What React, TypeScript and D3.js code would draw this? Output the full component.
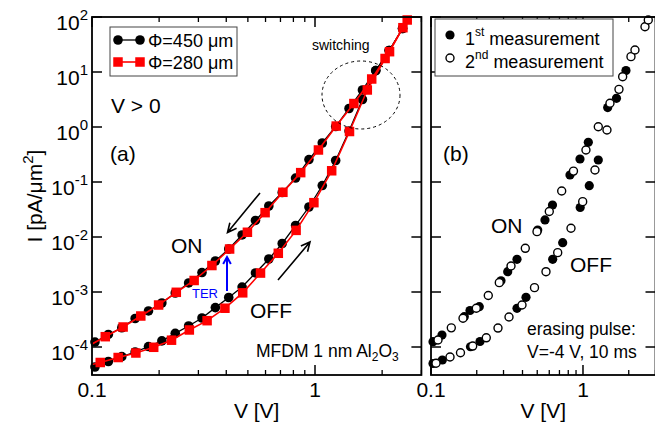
import React from "react";
import * as d3 from "d3";

const FONT = "'Liberation Sans', Arial, Helvetica, sans-serif";

// ---------- Panel (a) data : I [pA/um^2] vs V [V] ----------
const aBlackV = [0.1031, 0.1184, 0.136, 0.1561, 0.1792, 0.2057, 0.2362, 0.2712, 0.3113, 0.3574, 0.4103, 0.471, 0.5408, 0.6208, 0.7127, 0.8182, 0.9394, 1.078, 1.238, 1.421, 1.632, 1.873, 2.151, 2.469];
const aBlackOnI = [1.23e-4, 1.69e-4, 2.24e-4, 3.3e-4, 4.52e-4, 6.31e-4, 9.59e-4, 1.46e-3, 2.26e-3, 3.66e-3, 6.05e-3, 0.0109, 0.02, 0.0366, 0.0644, 0.118, 0.256, 0.512, 1.02, 2.17, 4.71, 10.6, 24.6, 61.8];
const aBlackOffI = [4.33e-5, 5.45e-5, 6.68e-5, 8.11e-5, 1.02e-4, 1.29e-4, 1.77e-4, 2.41e-4, 3.37e-4, 5.2e-4, 7.94e-4, 1.23e-3, 2.22e-3, 3.98e-3, 7.62e-3, 0.0162, 0.0351, 0.0863, 0.246, 0.845, 3.16, 10.6, 24.6, 61.8];

const aRedOnV = [0.0954, 0.1147, 0.1379, 0.1655, 0.1989, 0.2388, 0.2871, 0.3449, 0.4141, 0.4976, 0.5973, 0.7178, 0.8627, 1.036, 1.245, 1.494, 1.796, 2.159, 2.591];
const aRedOnI = [1.02e-4, 1.54e-4, 2.31e-4, 3.66e-4, 5.8e-4, 9.88e-4, 1.62e-3, 3.03e-3, 6.05e-3, 0.0122, 0.0277, 0.065, 0.148, 0.382, 1.04, 2.67, 7.46, 23.4, 88.2];
const aRedOffV = [0.09, 0.1089, 0.131, 0.1573, 0.1891, 0.2273, 0.2732, 0.3282, 0.3945, 0.4741, 0.5697, 0.6846, 0.8228, 0.9887, 1.188, 1.428, 1.716, 2.062, 2.479];
const aRedOffI = [4.33e-5, 5.23e-5, 6.44e-5, 7.78e-5, 9.88e-5, 1.33e-4, 2.04e-4, 3.01e-4, 5.07e-4, 9.66e-4, 2.21e-3, 5.06e-3, 0.0132, 0.0421, 0.16, 0.828, 4.71, 17.6, 63.9];

// ---------- Panel (b) data ----------
const bOn1V = [0.1031, 0.1181, 0.1656, 0.1805, 0.2078, 0.2887, 0.3196, 0.368, 0.5035, 0.5623, 0.63, 0.8211, 0.9557, 1.084, 1.454, 1.661, 1.918];
const bOn1I = [1.25e-4, 1.65e-4, 3.56e-4, 4.61e-4, 5.41e-4, 1.6e-3, 2.34e-3, 3.93e-3, 0.0134, 0.0204, 0.0382, 0.134, 0.262, 0.527, 2.26, 3.32, 10.6];
const bOff1V = [0.1031, 0.1187, 0.1819, 0.2101, 0.368, 0.4217, 0.6319, 0.7352, 0.9585, 1.1, 1.261];
const bOff1I = [5.01e-5, 5.8e-5, 1.01e-4, 1.26e-4, 5.06e-4, 8.01e-4, 3.93e-3, 7.87e-3, 0.0344, 0.0857, 0.251];
const bOn2V = [0.1112, 0.136, 0.1624, 0.1986, 0.2382, 0.2814, 0.336, 0.4173, 0.4982, 0.6002, 0.7243, 0.866, 1.046, 1.261, 1.505, 1.725, 2.069, 2.558];
const bOn2I = [1.34e-4, 2.23e-4, 3.33e-4, 5.06e-4, 8.63e-4, 1.48e-3, 2.97e-3, 6.23e-3, 0.0125, 0.0291, 0.0686, 0.158, 0.382, 1.01, 2.7, 4.84, 19.0, 66.6];
const bOff2V = [0.1079, 0.1334, 0.1563, 0.1881, 0.2311, 0.2759, 0.326, 0.397, 0.4797, 0.5709, 0.6818, 0.8339, 0.9954, 1.199, 1.438, 1.824, 2.198, 2.689];
const bOff2I = [5.06e-5, 6.58e-5, 7.87e-5, 1.04e-4, 1.47e-4, 2.21e-4, 3.51e-4, 5.8e-4, 1.2e-3, 2.34e-3, 5.19e-3, 0.0144, 0.0439, 0.165, 0.881, 8.22, 25.1, 88.2];

// ---------- Axis ticks ----------
const xMajorTicks = [0.1, 1];
const xMajorLabels = ["0.1", "1"];
const xMinorTicks = [0.2, 0.3, 0.4, 0.5, 0.6, 0.7, 0.8, 0.9, 2, 3];
const yExponents = [-4, -3, -2, -1, 0, 1, 2];

const legendA = ["\u03A6=450 \u03BCm", "\u03A6=280 \u03BCm"];
const legendB = [["1", "st", " measurement"], ["2", "nd", " measurement"]];
const yLabelMain = "I [pA/\u03BCm";

const TOP = 17, BOTTOM = 375;
const yScale = d3.scaleLog().domain([Math.pow(10, -4.509), 100]).range([BOTTOM, TOP]);
const xA = d3.scaleLog().domain([0.1, 3]).range([92, 421.4]);
const xB = d3.scaleLog().domain([0.1, 3]).range([431, 655.5]);

function pairs(vs: number[], is: number[]): [number, number][] {
  return vs.map((v, k) => [v, is[k]] as [number, number]);
}

function linePath(x: any, vs: number[], is: number[]) {
  return d3.line<[number, number]>().x((d) => x(d[0])).y((d) => yScale(d[1]))(pairs(vs, is)) || "";
}

function arrow(x1: number, y1: number, x2: number, y2: number, len = 9, half = 0.45) {
  const a = Math.atan2(y2 - y1, x2 - x1);
  const h1x = x2 - len * Math.cos(a - half), h1y = y2 - len * Math.sin(a - half);
  const h2x = x2 - len * Math.cos(a + half), h2y = y2 - len * Math.sin(a + half);
  return `M${x1},${y1}L${x2},${y2}M${h1x},${h1y}L${x2},${y2}L${h2x},${h2y}`;
}

function Frame({ x, showYLabels }: { x: any; showYLabels: boolean }) {
  const [l, r] = x.range();
  return (
    <g>
      {xMinorTicks.map((t) => (
        <g key={"mi" + t}>
          <line x1={x(t)} x2={x(t)} y1={BOTTOM} y2={BOTTOM - 5} stroke="#000" strokeWidth={1.3} />
          <line x1={x(t)} x2={x(t)} y1={TOP} y2={TOP + 5} stroke="#000" strokeWidth={1.3} />
        </g>
      ))}
      {xMajorTicks.map((t, k) => (
        <g key={"ma" + t}>
          <line x1={x(t)} x2={x(t)} y1={BOTTOM} y2={BOTTOM - 10} stroke="#000" strokeWidth={1.5} />
          <line x1={x(t)} x2={x(t)} y1={TOP} y2={TOP + 10} stroke="#000" strokeWidth={1.5} />
          <text x={x(t)} y={397} textAnchor="middle" fontSize={21} fontFamily={FONT}>{xMajorLabels[k]}</text>
        </g>
      ))}
      {yExponents.map((e) => (
        <g key={"y" + e}>
          <line x1={l} x2={l + 10} y1={yScale(Math.pow(10, e))} y2={yScale(Math.pow(10, e))} stroke="#000" strokeWidth={1.5} />
          <line x1={r} x2={r - 10} y1={yScale(Math.pow(10, e))} y2={yScale(Math.pow(10, e))} stroke="#000" strokeWidth={1.5} />
          {showYLabels && (
            <text x={88} y={yScale(Math.pow(10, e)) + 13} textAnchor="end" fontSize={21} fontFamily={FONT}>
              10<tspan dy={-10} fontSize={15}>{String(e)}</tspan>
            </text>
          )}
        </g>
      ))}
      <rect x={l} y={TOP} width={r - l} height={BOTTOM - TOP} fill="none" stroke="#000" strokeWidth={1.8} />
      <text x={(l + r) / 2} y={418} textAnchor="middle" fontSize={21} fontFamily={FONT}>V [V]</text>
    </g>
  );
}

export default function App() {
  const sq = 9.5;
  return (
    <div style={{ position: "absolute", left: 0, top: 0 }}>
      <svg width={655} height={428} viewBox="0 0 655 428" style={{ display: "block", background: "#fff" }}>
        <defs>
          <clipPath id="clipA"><rect x={92} y={TOP} width={329.4} height={BOTTOM - TOP} /></clipPath>
          <clipPath id="clipB"><rect x={431} y={TOP} width={224.5} height={BOTTOM - TOP} /></clipPath>
        </defs>
        <rect x={0} y={0} width={655} height={428} fill="#fff" />

        {/* ---------- Panel (a) ---------- */}
        <g clipPath="url(#clipA)">
          <path d={linePath(xA, aBlackV, aBlackOffI)} fill="none" stroke="#000" strokeWidth={1.3} />
          <path d={linePath(xA, aBlackV, aBlackOnI)} fill="none" stroke="#000" strokeWidth={1.3} />
        </g>
        {pairs(aBlackV, aBlackOffI).concat(pairs(aBlackV, aBlackOnI)).map((d, k) => (
          <circle key={"bk" + k} cx={xA(d[0])} cy={yScale(d[1])} r={4.8} fill="#000" />
        ))}
        <g clipPath="url(#clipA)">
          <path d={linePath(xA, aRedOffV, aRedOffI)} fill="none" stroke="#ff0000" strokeWidth={1.6} />
          <path d={linePath(xA, aRedOnV, aRedOnI)} fill="none" stroke="#ff0000" strokeWidth={1.6} />
        </g>
        {pairs(aRedOffV, aRedOffI).concat(pairs(aRedOnV, aRedOnI)).filter((d) => d[0] >= 0.1).map((d, k) => (
          <rect key={"rd" + k} x={xA(d[0]) - sq / 2} y={yScale(d[1]) - sq / 2} width={sq} height={sq} fill="#ff0000" />
        ))}

        <Frame x={xA} showYLabels={true} />

        {/* legend (a) */}
        <rect x={110} y={27} width={127} height={49} fill="#fff" stroke="#444" strokeWidth={1} />
        <line x1={118} x2={140} y1={40} y2={40} stroke="#000" strokeWidth={1.3} />
        <circle cx={118} cy={40} r={4.8} fill="#000" />
        <circle cx={140} cy={40} r={4.8} fill="#000" />
        <line x1={118} x2={140} y1={62} y2={62} stroke="#ff0000" strokeWidth={1.6} />
        <rect x={118 - sq / 2} y={62 - sq / 2} width={sq} height={sq} fill="#ff0000" />
        <rect x={140 - sq / 2} y={62 - sq / 2} width={sq} height={sq} fill="#ff0000" />
        <text x={148} y={46.5} fontSize={18} fontFamily={FONT}>{legendA[0]}</text>
        <text x={148} y={68.5} fontSize={18} fontFamily={FONT}>{legendA[1]}</text>

        <text x={111} y={113} fontSize={21} fontFamily={FONT}>V &gt; 0</text>
        <text x={110} y={161} fontSize={21} fontFamily={FONT}>(a)</text>
        <text x={312} y={50} fontSize={14} fontFamily={FONT}>switching</text>
        <ellipse cx={361} cy={95} rx={39} ry={34} fill="none" stroke="#000" strokeWidth={1} strokeDasharray="3,3" />
        <text x={171} y={253} fontSize={21} fontFamily={FONT}>ON</text>
        <text x={250} y={318} fontSize={21} fontFamily={FONT}>OFF</text>
        <text x={192} y={298} fontSize={13} fontFamily={FONT} fill="#0000ff">TER</text>
        <path d={arrow(227, 291, 227, 257, 8, 0.5)} fill="none" stroke="#0000ff" strokeWidth={2} />
        <path d={arrow(260, 193, 227.5, 232.5, 10, 0.45)} fill="none" stroke="#000" strokeWidth={1.6} />
        <path d={arrow(278, 280, 310, 242, 10, 0.45)} fill="none" stroke="#000" strokeWidth={1.6} />
        <text x={256} y={357} fontSize={17.5} fontFamily={FONT}>
          MFDM 1 nm Al<tspan dy={4} fontSize={12}>2</tspan><tspan dy={-4}>O</tspan><tspan dy={4} fontSize={12}>3</tspan>
        </text>

        {/* y label */}
        <text transform="translate(42,196) rotate(-90)" textAnchor="middle" fontSize={21} fontFamily={FONT}>
          {yLabelMain}<tspan dy={-9} fontSize={15}>2</tspan><tspan dy={9}>]</tspan>
        </text>

        {/* ---------- Panel (b) ---------- */}
        {pairs(bOn1V, bOn1I).concat(pairs(bOff1V, bOff1I)).map((d, k) => (
          <circle key={"f" + k} cx={xB(d[0])} cy={yScale(d[1])} r={4.6} fill="#000" />
        ))}
        {pairs(bOn2V, bOn2I).concat(pairs(bOff2V, bOff2I)).map((d, k) => (
          <circle key={"o" + k} cx={xB(d[0])} cy={yScale(d[1])} r={4} fill="#fff" stroke="#000" strokeWidth={1.4} />
        ))}

        <Frame x={xB} showYLabels={false} />

        <rect x={435} y={19} width={178} height={57} fill="#fff" stroke="#444" strokeWidth={1} />
        <circle cx={450} cy={35} r={4.6} fill="#000" />
        <circle cx={450} cy={58} r={4} fill="#fff" stroke="#000" strokeWidth={1.4} />
        {legendB.map((t, k) => (
          <text key={"lb" + k} x={465} y={45 + k * 22.5} fontSize={18} fontFamily={FONT}>
            {t[0]}<tspan dy={-9} fontSize={12}>{t[1]}</tspan><tspan dy={9}>{t[2]}</tspan>
          </text>
        ))}
        <text x={443} y={161} fontSize={21} fontFamily={FONT}>(b)</text>
        <text x={491} y={233} fontSize={21} fontFamily={FONT}>ON</text>
        <text x={570} y={272} fontSize={21} fontFamily={FONT}>OFF</text>
        <text x={527} y={335} fontSize={17.5} fontFamily={FONT}>erasing pulse:</text>
        <text x={527} y={358} fontSize={17.5} fontFamily={FONT}>V=-4 V, 10 ms</text>
      </svg>
    </div>
  );
}
